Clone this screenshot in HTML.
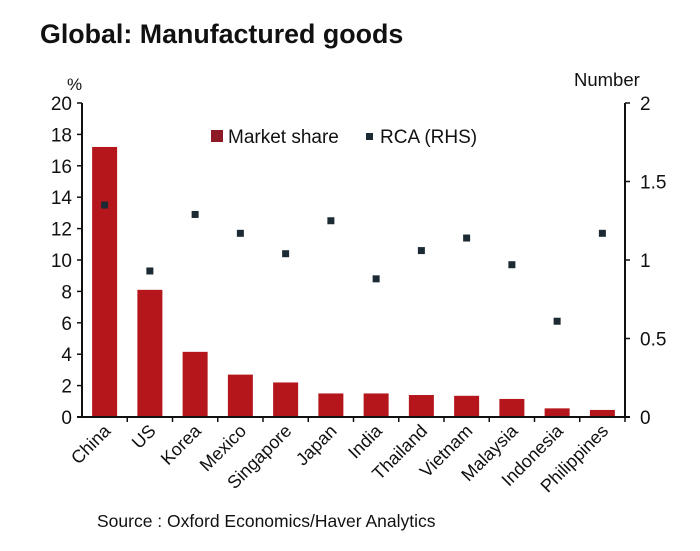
<!DOCTYPE html>
<html><head><meta charset="utf-8"><style>body{margin:0;background:#fff}svg{display:block}</style></head>
<body>
<svg width="700" height="551" xmlns="http://www.w3.org/2000/svg" font-family="Liberation Sans, Arial, sans-serif">
<text x="40" y="43" font-size="26.8" font-weight="bold" fill="#111">Global: Manufactured goods</text>
<text x="67" y="90" font-size="17" fill="#111">%</text>
<text x="574" y="86" font-size="18.5" fill="#111">Number</text>
<g id="bars" fill="#b5161c"></g>
<g id="pts" fill="#1c2a33"></g>
<g stroke="#111" stroke-width="2" fill="none">
<line x1="82" y1="103" x2="82" y2="417"/>
<line x1="625" y1="103" x2="625" y2="417"/>
<line x1="77" y1="417" x2="630" y2="417"/>
</g>
<g id="ax" font-size="19" fill="#111"></g>
<g id="lab" font-size="18" fill="#111"></g>
<rect x="211" y="130" width="12" height="12" fill="#8e1a26"/>
<text x="228" y="143" font-size="19" fill="#111">Market share</text>
<rect x="366" y="133" width="7" height="7" fill="#1c2a33"/>
<text x="380" y="143" font-size="19" fill="#111">RCA (RHS)</text>
<text x="97" y="527" font-size="17.5" fill="#111">Source : Oxford Economics/Haver Analytics</text>
<script>
var ns="http://www.w3.org/2000/svg";
function el(p,t,a,txt){var e=document.createElementNS(ns,t);for(var k in a)e.setAttribute(k,a[k]);if(txt)e.textContent=txt;document.getElementById(p).appendChild(e);return e;}
var names=["China","US","Korea","Mexico","Singapore","Japan","India","Thailand","Vietnam","Malaysia","Indonesia","Philippines"];
var ms=[17.2,8.1,4.15,2.7,2.2,1.5,1.5,1.4,1.35,1.15,0.55,0.45];
var rca=[1.35,0.93,1.29,1.17,1.04,1.25,0.88,1.06,1.14,0.97,0.61,1.17];
var y0=417,s=15.7,cw=543/12;
for(var i=0;i<12;i++){var c=82+cw*(i+0.5);
el("bars","rect",{x:c-12.5,y:y0-ms[i]*s,width:25,height:ms[i]*s});
var yr=y0-rca[i]*157;el("pts","rect",{x:c-3.5,y:yr-3.5,width:7,height:7});
el("ax","line",{x1:82+cw*(i+1),y1:417,x2:82+cw*(i+1),y2:422,stroke:"#111","stroke-width":1.5});
el("lab","text",{x:0,y:0,"text-anchor":"end",transform:"translate("+(c+7)+",432) rotate(-45)"},names[i]);}
for(var v=0;v<=20;v+=2){var y=y0-v*s;el("ax","line",{x1:77,y1:y,x2:82,y2:y,stroke:"#111","stroke-width":1.5});
el("ax","text",{x:72,y:y+7,"text-anchor":"end"},""+v);}
["0","0.5","1","1.5","2"].forEach(function(t,j){var y=y0-j*78.5;el("ax","line",{x1:625,y1:y,x2:630,y2:y,stroke:"#111","stroke-width":1.5});
el("ax","text",{x:640,y:y+7},t);});
</script>
</svg>
</body></html>
